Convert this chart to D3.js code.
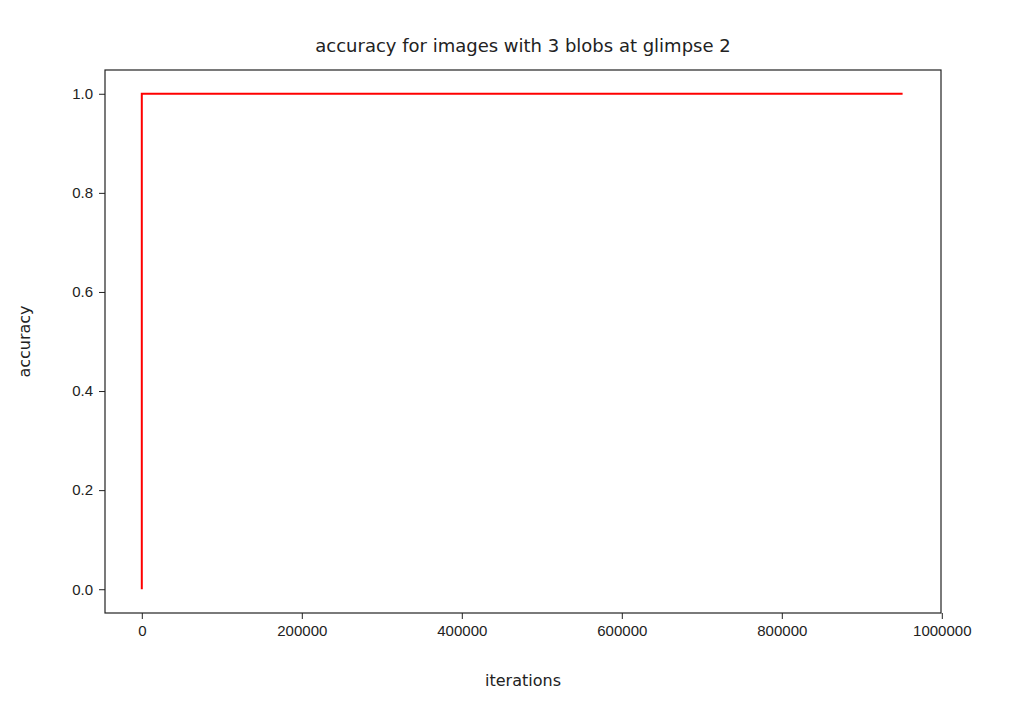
<!DOCTYPE html>
<html lang="en">
<head>
<meta charset="UTF-8" />
<title>accuracy for images with 3 blobs at glimpse 2</title>
<script src="https://cdn.jsdelivr.net/npm/d3@7"></script>
<style>
  body { margin: 0; background: #fff; font-family: "DejaVu Sans", sans-serif; }
  .tick text { font-size: 15px; fill: #222; }
  .tick line, .domain { stroke: #222; }
</style>
</head>
<body>
<div class="chart"></div>
<script>
const iterations = [0, 0, 951000];
const accuracy = [0.0, 1.0, 1.0];
const xTicks = [0, 200000, 400000, 600000, 800000, 1000000];
const yTicks = [0.0, 0.2, 0.4, 0.6, 0.8, 1.0];

let width = 1030, height = 714;
let plotLeft = 105, plotRight = 941, plotTop = 70, plotBottom = 613;

const xScale = d3.scaleLinear([-46000, 999000], [plotLeft, plotRight]);
const yScale = d3.scaleLinear([-0.048, 1.048], [plotBottom, plotTop]);

const svg = d3.select(".chart").append("svg")
  .attr("width", width).attr("height", height)
  .style("font-family", "DejaVu Sans, sans-serif");

// frame
svg.append("rect")
  .attr("x", plotLeft).attr("y", plotTop)
  .attr("width", plotRight - plotLeft).attr("height", plotBottom - plotTop)
  .attr("fill", "none").attr("stroke", "#222").attr("stroke-width", 1.2);

svg.append("g")
  .attr("transform", "translate(0," + plotBottom + ")")
  .call(d3.axisBottom(xScale).tickValues(xTicks).tickFormat(d => d).tickSizeOuter(0).tickSize(6).tickPadding(6))
  .call(g => g.select(".domain").remove());

svg.append("g")
  .attr("transform", "translate(" + plotLeft + ",0)")
  .call(d3.axisLeft(yScale).tickValues(yTicks).tickFormat(d3.format(".1f")).tickSizeOuter(0).tickSize(6).tickPadding(6))
  .call(g => g.select(".domain").remove());

const pts = iterations.map((d, i) => [d, accuracy[i]]);
svg.append("path")
  .datum(pts)
  .attr("fill", "none")
  .attr("stroke", "#ff0000")
  .attr("stroke-width", 2)
  .attr("d", d3.line().x(d => xScale(d[0])).y(d => yScale(d[1])));

svg.append("text")
  .attr("x", (plotLeft + plotRight) / 2).attr("y", 52)
  .attr("text-anchor", "middle").attr("font-size", 18).attr("fill", "#222")
  .text("accuracy for images with 3 blobs at glimpse 2");

svg.append("text")
  .attr("x", (plotLeft + plotRight) / 2).attr("y", 686)
  .attr("text-anchor", "middle").attr("font-size", 16).attr("fill", "#222")
  .text("iterations");

svg.append("text")
  .attr("transform", "translate(30," + ((plotTop + plotBottom) / 2) + ") rotate(-90)")
  .attr("text-anchor", "middle").attr("font-size", 16).attr("fill", "#222")
  .text("accuracy");
</script>
</body>
</html>
